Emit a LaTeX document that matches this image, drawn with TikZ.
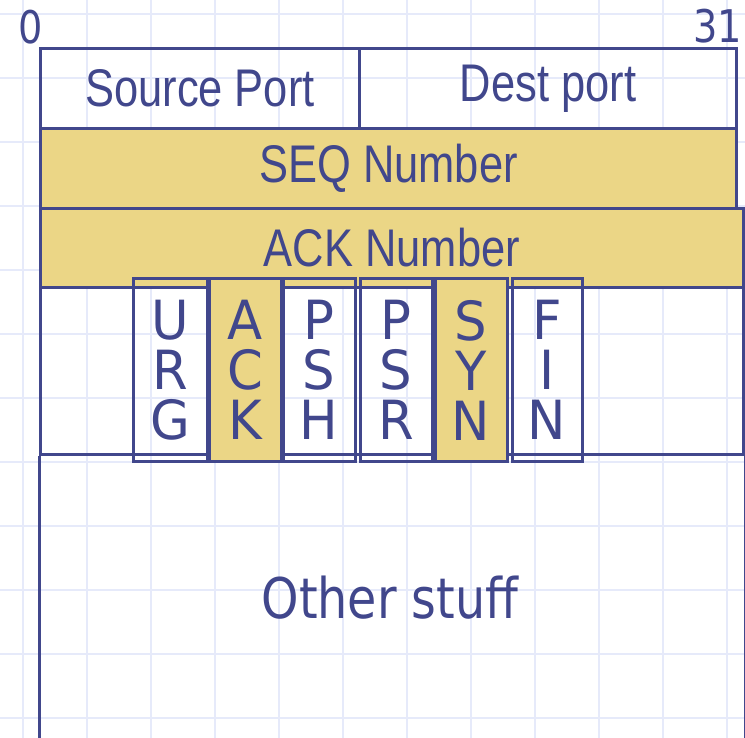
\documentclass[tikz,border=0pt]{standalone}
\usepackage{fontspec}
\setmainfont{Liberation Sans}
\newfontfamily\slidefont[FakeStretch=0.82]{Liberation Sans}
\newfontfamily\tahofont[FakeStretch=0.85]{DejaVu Sans}
\newfontfamily\flagfont[FakeStretch=0.95]{DejaVu Sans}
\definecolor{ink}{HTML}{41478C}
\definecolor{gold}{HTML}{EBD686}
\definecolor{gridblue}{HTML}{E6EAFA}
\tikzset{
  field/.style={
    % The shape:
    shape=rectangle,anchor=north west,inner sep=0pt,
    % The border:
    line width=3pt,draw=ink,
    % The text:
    text=ink,font=\slidefont\fontsize{53}{60}\selectfont},
  setfield/.style={field,fill=gold}}
\tikzset{
	flag/.style={
		% The shape:
		shape=rectangle,minimum width=74pt,minimum height=182pt,inner sep=0pt,
		% The rest
		line width=3pt,draw=ink,text=ink,align=center,
		font=\flagfont\fontsize{54}{50}\selectfont},
	setflag/.style={flag,fill=gold},
	edge/.style={line width=3pt,draw=ink},
	gridline/.style={line width=2pt,draw=gridblue}}

\begin{document}
\begin{tikzpicture}[x=1pt,y=-1pt]
	\useasboundingbox (0,0) rectangle (745,738);
	\fill[white] (0,0) rectangle (745,738);
	% Background grid
	\foreach \gx in {23,87,...,727} \draw[gridline] (\gx,0) -- (\gx,738);
	\foreach \gy in {14,78,...,718} \draw[gridline] (0,\gy) -- (745,\gy);
	% Bit numbers
	\node[text=ink,font=\tahofont\fontsize{45}{50}\selectfont] (b0) at (31,27) {0};
	\node[text=ink,font=\tahofont\fontsize{45}{50}\selectfont] (b31) at (718,26) {31};
	% Header rows
	\node[field,minimum width=319pt,minimum height=80pt] (src) at (39,47) {Source Port};
	\node[field,minimum width=377pt,minimum height=80pt] (dst) at (358,47) {Dest port};
	\node[setfield,minimum width=696pt,minimum height=80pt] (seq) at (39,127) {SEQ Number};
	\node[setfield,minimum width=703pt,minimum height=79pt] (ack) at (39,207) {ACK Number};
	\node[field,minimum width=703pt,minimum height=167pt] (row) at (39,286) {};
	% Flags
	\node[flag] (urg) at (170,370) {U\\R\\G};
	\node[setflag,minimum width=72pt] (ackf) at (245,370) {A\\C\\K};
	\node[flag,minimum width=72pt] (psh) at (319,370) {P\\S\\H};
	\node[flag,minimum width=72pt] (psr) at (396,370) {P\\S\\R};
	\node[setflag,minimum width=72pt] (syn) at (471,370) {S\\Y\\N};
	\node[flag,minimum width=70pt] (fin) at (547,370) {F\\I\\N};
	% Rest of the header
	\draw[edge] (row.south west) -- ++(0,290);
	\draw[edge] (row.south east) -- ++(0,290);
	\node[text=ink,font=\tahofont\fontsize{56}{60}\selectfont] (rest) at (390,598) {Other stuff};
\end{tikzpicture}
\end{document}
